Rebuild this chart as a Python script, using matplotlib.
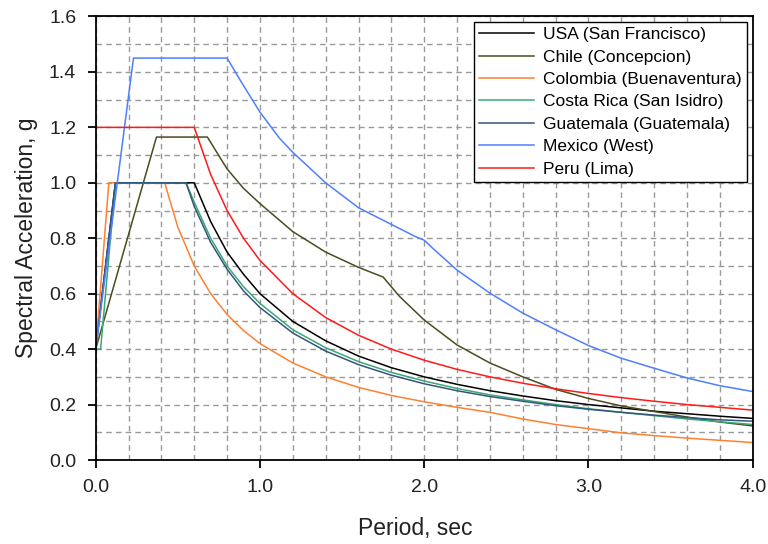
import numpy as np
import matplotlib
matplotlib.use("Agg")
import matplotlib.pyplot as plt
from matplotlib.ticker import MultipleLocator

plt.rcParams['font.family'] = ['Liberation Sans', 'DejaVu Sans']

# response spectra (period in sec, Sa in g)
usa_t = [0, 0.12, 0.6, 0.7, 0.8, 0.9, 1.0, 1.2, 1.4, 1.6, 1.8, 2.0, 2.2, 2.4, 2.6, 2.8, 3.0, 3.2, 3.4, 3.6, 3.8, 4.0]
usa_sa = [0.4, 1.0, 1.0, 0.86, 0.75, 0.67, 0.6, 0.5, 0.43, 0.375, 0.333, 0.3, 0.273, 0.25, 0.231, 0.214, 0.2, 0.188, 0.176, 0.167, 0.158, 0.15]

chile_t = [0, 0.37, 0.68, 0.8, 0.9, 1.0, 1.2, 1.4, 1.6, 1.75, 1.85, 2.0, 2.2, 2.4, 2.6, 2.8, 3.0, 3.2, 3.4, 3.6, 3.8, 4.0]
chile_sa = [0.4, 1.165, 1.165, 1.05, 0.98, 0.925, 0.824, 0.75, 0.695, 0.66, 0.59, 0.505, 0.415, 0.35, 0.30, 0.255, 0.222, 0.195, 0.175, 0.155, 0.137, 0.123]

colombia_t = [0, 0.08, 0.42, 0.5, 0.6, 0.7, 0.8, 0.9, 1.0, 1.2, 1.4, 1.6, 1.8, 2.0, 2.2, 2.4, 2.6, 2.8, 3.0, 3.2, 3.4, 3.6, 3.8, 4.0]
colombia_sa = [0.4, 1.0, 1.0, 0.84, 0.70, 0.60, 0.525, 0.467, 0.42, 0.35, 0.30, 0.262, 0.233, 0.21, 0.19, 0.172, 0.148, 0.128, 0.113, 0.098, 0.088, 0.079, 0.071, 0.063]

costa_t = [0, 0.03, 0.12, 0.55, 0.6, 0.7, 0.8, 0.9, 1.0, 1.2, 1.4, 1.6, 1.8, 2.0, 2.2, 2.4, 2.6, 2.8, 3.0, 3.2, 3.4, 3.6, 3.8, 4.0]
costa_sa = [0.4, 0.4, 1.0, 1.0, 0.93, 0.80, 0.70, 0.625, 0.565, 0.47, 0.405, 0.355, 0.316, 0.285, 0.258, 0.235, 0.217, 0.2, 0.185, 0.172, 0.16, 0.148, 0.138, 0.128]

guate_t = [0, 0.12, 0.55, 0.6, 0.7, 0.8, 0.9, 1.0, 1.2, 1.4, 1.6, 1.8, 2.0, 2.2, 2.4, 2.6, 2.8, 3.0, 3.2, 3.4, 3.6, 3.8, 4.0]
guate_sa = [0.4, 1.0, 1.0, 0.915, 0.785, 0.688, 0.61, 0.55, 0.458, 0.393, 0.344, 0.306, 0.275, 0.25, 0.229, 0.212, 0.196, 0.183, 0.172, 0.162, 0.153, 0.145, 0.14]

mexico_t = [0, 0.23, 0.8, 0.88, 1.0, 1.12, 1.2, 1.4, 1.6, 1.8, 1.95, 2.0, 2.05, 2.2, 2.4, 2.6, 2.8, 3.0, 3.2, 3.4, 3.6, 3.8, 4.0]
mexico_sa = [0.4, 1.45, 1.45, 1.37, 1.255, 1.16, 1.11, 1.0, 0.91, 0.85, 0.805, 0.793, 0.765, 0.685, 0.602, 0.53, 0.47, 0.413, 0.367, 0.331, 0.296, 0.268, 0.247]

peru_t = [0, 0.6, 0.7, 0.8, 0.9, 1.0, 1.2, 1.4, 1.6, 1.8, 2.0, 2.2, 2.4, 2.6, 2.8, 3.0, 3.2, 3.4, 3.6, 3.8, 4.0]
peru_sa = [1.2, 1.2, 1.03, 0.9, 0.8, 0.72, 0.6, 0.514, 0.45, 0.4, 0.36, 0.327, 0.3, 0.277, 0.257, 0.24, 0.225, 0.212, 0.2, 0.19, 0.18]

fig = plt.figure(figsize=(7.68, 5.44), dpi=100)
ax = fig.add_axes([0.1246, 0.1544, 0.8555, 0.8153])

lw = 1.1
ax.plot(usa_t, usa_sa, color='black', lw=lw, label='USA (San Francisco)')
ax.plot(chile_t, chile_sa, color='#4b4b1e', lw=lw, label='Chile (Concepcion)')
ax.plot(colombia_t, colombia_sa, color='#ff8030', lw=lw, label='Colombia (Buenaventura)')
ax.plot(costa_t, costa_sa, color='#3aa876', lw=lw, label='Costa Rica (San Isidro)')
ax.plot(guate_t, guate_sa, color='#33557f', lw=lw, label='Guatemala (Guatemala)')
ax.plot(mexico_t, mexico_sa, color='#4f7fff', lw=lw, label='Mexico (West)')
ax.plot(peru_t, peru_sa, color='#ff1a1a', lw=lw, label='Peru (Lima)')

ax.set_xlim(0, 4.0)
ax.set_ylim(0, 1.6)
ax.xaxis.set_major_locator(MultipleLocator(1.0))
ax.xaxis.set_minor_locator(MultipleLocator(0.2))
ax.yaxis.set_major_locator(MultipleLocator(0.2))
ax.yaxis.set_minor_locator(MultipleLocator(0.1))
ax.set_xticklabels([f'{v:.1f}' for v in ax.get_xticks()])
ax.set_yticklabels([f'{v:.1f}' for v in ax.get_yticks()])

ax.grid(True, which='both', color='#999999', linestyle=(0, (4, 3)), linewidth=1.0)
ax.set_axisbelow(True)
ax.tick_params(which='minor', length=0)
ax.tick_params(which='major', direction='out', length=6, width=1.3, color='black',
               labelsize=14, labelcolor='#222222', pad=8)
for s in ax.spines.values():
    s.set_linewidth(1.3)
    s.set_color('black')

ax.set_xlabel('Period, sec', fontsize=16.5, color='#222222')
ax.xaxis.set_label_coords(0.487, -0.128)
ax.set_ylabel('Spectral Acceleration, g', fontsize=16.5, color='#222222', labelpad=8)

leg = ax.legend(loc='upper right', bbox_to_anchor=(0.991, 0.988), borderaxespad=0,
                fontsize=12.5, frameon=True, fancybox=False, framealpha=1,
                edgecolor='black', handlelength=3.2, handletextpad=0.5,
                labelspacing=0.42, borderpad=0.3)
leg.get_frame().set_linewidth(1.0)

fig.savefig('out.png', dpi=100)
